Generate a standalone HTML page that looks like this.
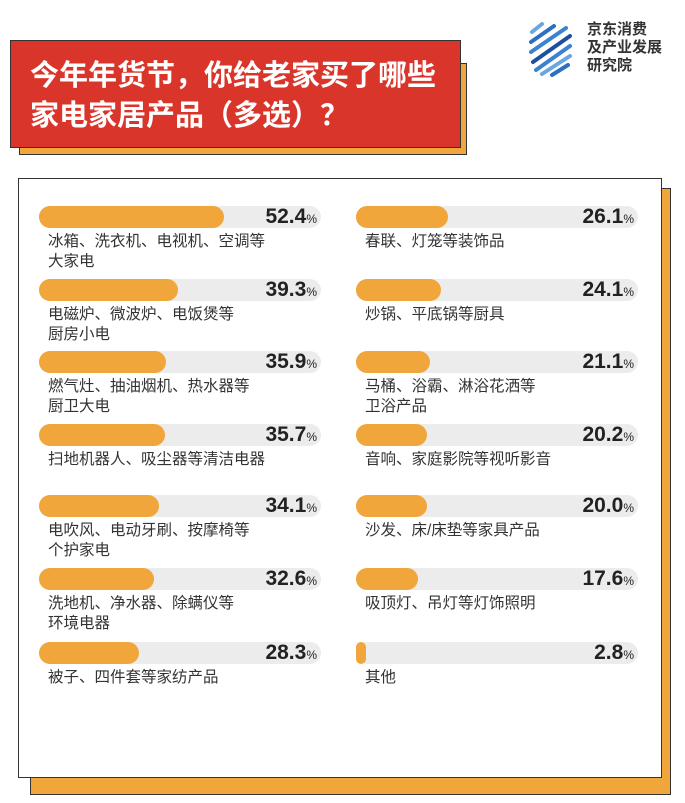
<!DOCTYPE html>
<html><head><meta charset="utf-8">
<style>
body{margin:0;width:685px;height:803px;background:#fff;position:relative;overflow:hidden;font-family:"Liberation Sans","Noto Sans CJK SC",sans-serif}
.abs{position:absolute}
.lbl{font-size:15.5px;color:#333;line-height:20px;white-space:nowrap}
.val{font-family:"Liberation Sans Narrow","Liberation Sans",sans-serif;font-weight:bold;font-size:21px;color:#222;text-align:right;width:90px;line-height:22px}
.val small{font-size:12px;font-weight:normal}
</style></head><body>
<div class="abs" style="left:30px;top:188px;width:641px;height:607px;background:#f0a63a;border:1.5px solid #333;box-sizing:border-box"></div>
<div class="abs" style="left:18px;top:178px;width:644px;height:600px;background:#fff;border:1.5px solid #333;box-sizing:border-box"></div>
<div class="abs" style="left:19px;top:63px;width:448px;height:92px;background:#f0a63a;border:1.5px solid #333;box-sizing:border-box"></div>
<div class="abs" style="left:10px;top:40px;width:451px;height:108px;background:#d9352a;border:1.5px solid #333;box-sizing:border-box"></div>
<div class="abs" style="left:30px;top:56px;color:#fff;font-weight:bold;font-size:29px;line-height:40px;white-space:nowrap;font-family:'Liberation Sans','Noto Sans CJK SC',sans-serif">今年年货节，你给老家买了哪些<br>家电家居产品（多选）？</div>
<svg class="abs" style="left:528px;top:22px" width="50" height="56">
<g stroke-linecap="round" stroke-width="4">
<line x1="4" y1="10" x2="14" y2="2" stroke="#6aa7e0"/>
<line x1="3" y1="20" x2="26" y2="4" stroke="#2f6fc0"/>
<line x1="3" y1="30" x2="38" y2="6" stroke="#3b82d0"/>
<line x1="5" y1="40" x2="42" y2="14" stroke="#1d4f9a"/>
<line x1="8" y1="48" x2="42" y2="24" stroke="#3b82d0"/>
<line x1="14" y1="52" x2="42" y2="34" stroke="#6aa7e0"/>
<line x1="24" y1="53" x2="40" y2="43" stroke="#2f6fc0"/>
</g></svg>
<div class="abs" style="left:587px;top:21px;font-size:15px;font-weight:bold;color:#333;line-height:18px">京东消费<br>及产业发展<br>研究院</div>
<div id="chart"></div>
<script>
const leftLabels=["冰箱、洗衣机、电视机、空调等<br>大家电","电磁炉、微波炉、电饭煲等<br>厨房小电","燃气灶、抽油烟机、热水器等<br>厨卫大电","扫地机器人、吸尘器等清洁电器","电吹风、电动牙刷、按摩椅等<br>个护家电","洗地机、净水器、除螨仪等<br>环境电器","被子、四件套等家纺产品"];
const leftValues=[52.4,39.3,35.9,35.7,34.1,32.6,28.3];
const rightLabels=["春联、灯笼等装饰品","炒锅、平底锅等厨具","马桶、浴霸、淋浴花洒等<br>卫浴产品","音响、家庭影院等视听影音","沙发、床/床垫等家具产品","吸顶灯、吊灯等灯饰照明","其他"];
const rightValues=[26.1,24.1,21.1,20.2,20.0,17.6,2.8];
const rowTops=[206,279,351,424,495,568,642];
const domainMax=80, trackW=282;
function xw(v){return Math.max(10,v/domainMax*trackW);}
const chart=document.getElementById('chart');
function col(labels,values,x0,side){
 values.forEach((v,i)=>{
  const y=rowTops[i];
  const tr=document.createElement('div');tr.className='abs';
  
  
  tr.style.cssText=`left:${x0}px;top:${y}px;width:${trackW}px;height:22px;border-radius:11px;background:#ececec`;
  chart.appendChild(tr);
  const b=document.createElement('div');b.className='abs';
  
  
  b.style.cssText=`left:${x0}px;top:${y}px;width:${xw(v)}px;height:22px;border-radius:11px;background:#f0a63a`;
  chart.appendChild(b);
  const t=document.createElement('div');t.className='abs val';
  
  
  t.style.left=(x0+trackW-94)+'px';t.style.top=y+'px';
  t.innerHTML=v.toFixed(1)+'<small>%</small>';
  chart.appendChild(t);
  const l=document.createElement('div');l.className='abs lbl';
  
  
  l.style.left=(x0+9)+'px';l.style.top=(y+26)+'px';
  l.innerHTML=labels[i];
  chart.appendChild(l);
 });
}
col(leftLabels,leftValues,39,'left');
col(rightLabels,rightValues,356,'right');
</script>
</body></html>
